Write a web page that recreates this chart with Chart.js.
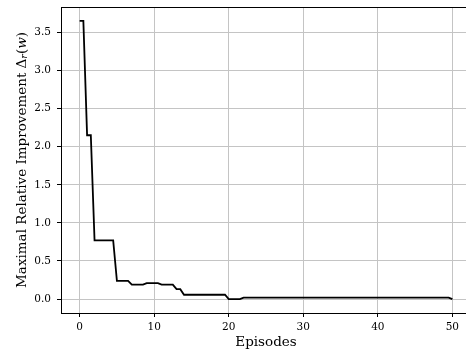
<!DOCTYPE html>
<html lang="en">
<head>
<meta charset="UTF-8">
<title>Maximal Relative Improvement</title>
<style>
  html, body { margin: 0; padding: 0; background: #fff; overflow: hidden; }
  #wrap { width: 480px; height: 351px; }
</style>
</head>
<body>
<div id="wrap"><canvas id="myChart" width="480" height="351"></canvas></div>
<script src="https://cdn.jsdelivr.net/npm/chart.js@4.4.0/dist/chart.umd.min.js"></script>
<script>
// breakpoints of the curve
const episodes = [0, 0.5, 1, 1.5, 2, 4.5, 5, 6.5, 7, 8.5, 9, 10.5, 11, 12.5, 13, 13.5, 14, 19.5, 20, 21.5, 22, 49.5, 50];
const improvement = [3.65, 3.65, 2.15, 2.15, 0.77, 0.77, 0.24, 0.24, 0.19, 0.19, 0.21, 0.21, 0.19, 0.19, 0.13, 0.13, 0.057, 0.057, 0.0, 0.0, 0.02, 0.02, 0.0];
const xTicks = [0, 10, 20, 30, 40, 50];
const yTicks = [0, 0.5, 1.0, 1.5, 2.0, 2.5, 3.0, 3.5];

const serif = "'DejaVu Serif', serif";

// y title with subscript / italic parts, plus top+right spines
const decor = {
  id: 'decor',
  afterDraw(chart) {
    const c = chart.ctx, a = chart.chartArea;
    c.save();
    c.strokeStyle = '#000';
    c.lineWidth = 1;
    c.beginPath();
    c.moveTo(a.left, a.top + 0.5);
    c.lineTo(a.right, a.top + 0.5);
    c.moveTo(a.right - 0.5, a.top);
    c.lineTo(a.right - 0.5, a.bottom);
    c.stroke();

    const runs = [
      { t: 'Maximal Relative Improvement ', f: '13.5px ' + serif, dy: 0 },
      { t: 'Δ', f: '13.5px ' + serif, dy: 0 },
      { t: 'r', f: 'italic 9.5px ' + serif, dy: 3 },
      { t: '(', f: '13.5px ' + serif, dy: 0 },
      { t: 'w', f: 'italic 13.5px ' + serif, dy: 0 },
      { t: ')', f: '13.5px ' + serif, dy: 0 }
    ];
    let total = 0;
    runs.forEach(r => { c.font = r.f; r.w = c.measureText(r.t).width; total += r.w; });
    c.translate(22, (a.top + a.bottom) / 2);
    c.rotate(-Math.PI / 2);
    c.fillStyle = '#000';
    c.textBaseline = 'middle';
    let x = -total / 2;
    runs.forEach(r => { c.font = r.f; c.fillText(r.t, x, r.dy); x += r.w; });
    c.restore();
  }
};

new Chart(document.getElementById('myChart'), {
  type: 'line',
  data: {
    datasets: [{
      data: episodes.map((e, i) => ({ x: e, y: improvement[i] })),
      borderColor: '#000',
      borderWidth: 1.8,
      pointRadius: 0,
      tension: 0,
      fill: false
    }]
  },
  options: {
    responsive: false,
    animation: false,
    layout: { padding: { top: 7, right: 9, left: 0, bottom: 0 } },
    plugins: { legend: { display: false }, tooltip: { enabled: false } },
    scales: {
      x: {
        type: 'linear',
        min: -2.5,
        max: 52.5,
        afterBuildTicks: s => { s.ticks = xTicks.map(v => ({ value: v })); },
        afterFit: s => { s.height = 38; s.paddingLeft = 0; s.paddingRight = 0; },
        grid: { color: '#c4c4c4', lineWidth: 1, tickColor: '#000', tickLength: 4 },
        border: { color: '#000', width: 1 },
        ticks: { color: '#000', font: { family: serif, size: 10.5 }, padding: 4, maxRotation: 0 },
        title: {
          display: true, text: 'Episodes', color: '#000',
          font: { family: serif, size: 13.5 }, padding: { top: 0, bottom: 0 }
        }
      },
      y: {
        min: -0.1825,
        max: 3.8325,
        afterBuildTicks: s => { s.ticks = yTicks.map(v => ({ value: v })); },
        afterFit: s => { s.width = 61; s.paddingTop = 0; s.paddingBottom = 0; },
        grid: { color: '#c4c4c4', lineWidth: 1, tickColor: '#000', tickLength: 4 },
        border: { color: '#000', width: 1 },
        ticks: {
          color: '#000', font: { family: serif, size: 10.5 }, padding: 6,
          callback: v => v.toFixed(1)
        }
      }
    }
  },
  plugins: [decor]
});
</script>
</body>
</html>
